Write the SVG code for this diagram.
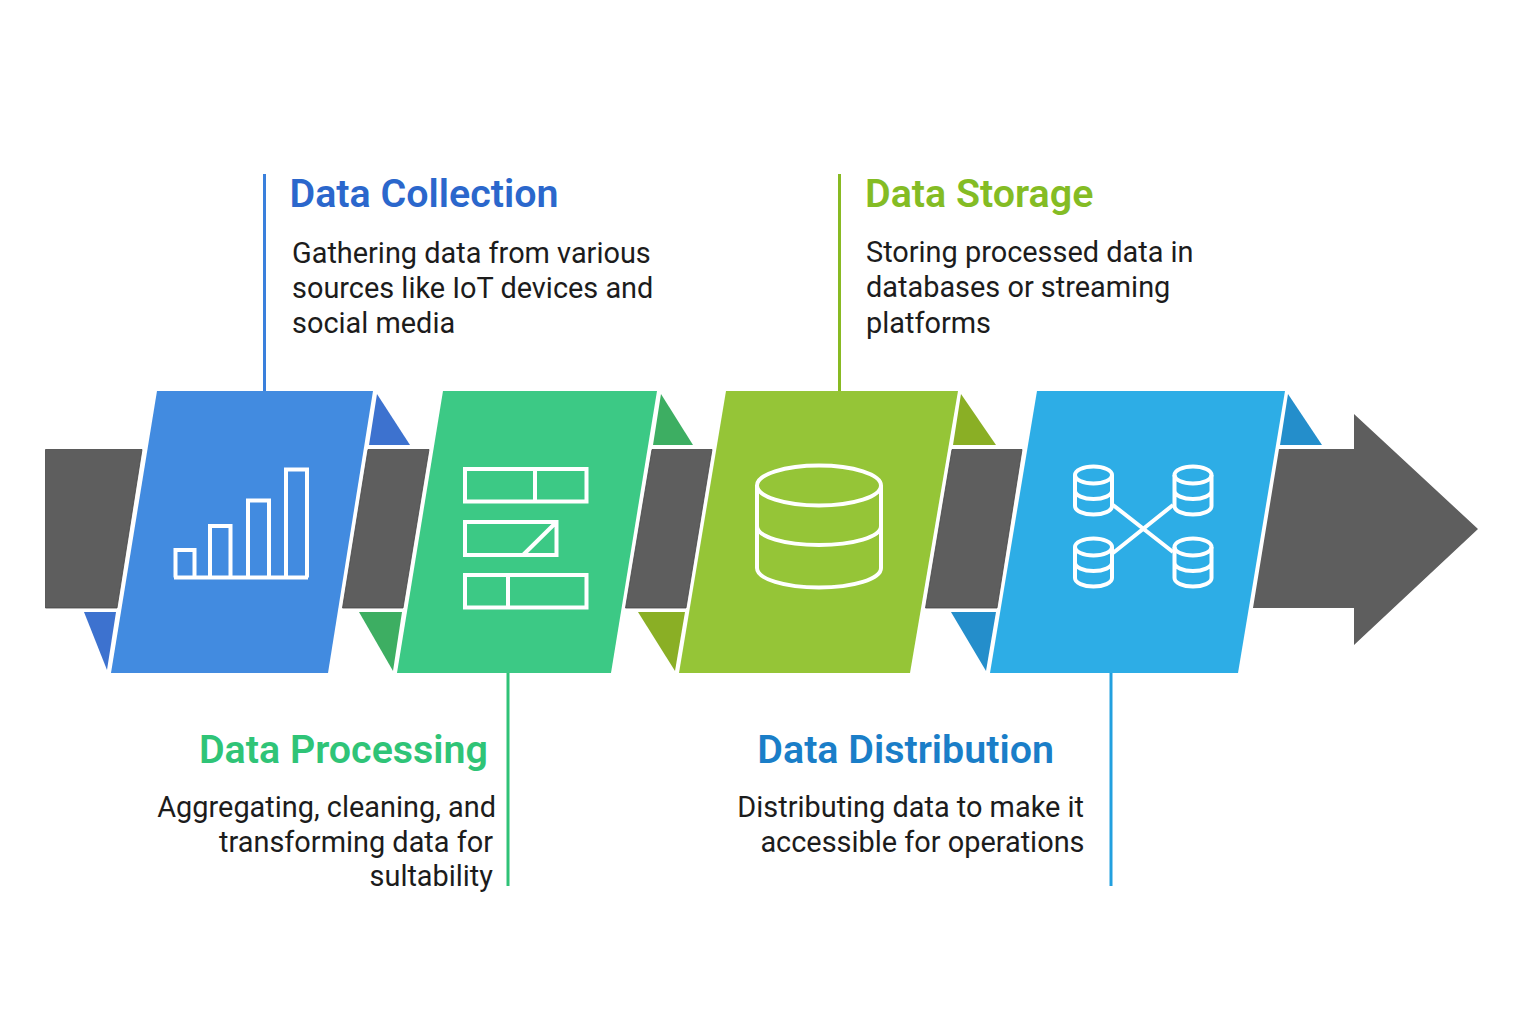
<svg xmlns="http://www.w3.org/2000/svg" width="1536" height="1024" viewBox="0 0 1536 1024">
<style>
text{font-family:Roboto,"Liberation Sans",sans-serif}
.t{font-size:39.400px;font-weight:600}
.b{font-size:28.900px;fill:#1c1c1c}
.e{text-anchor:end}
.g{fill:#5e5e5e;stroke:#454545;stroke-width:.8}
.i{fill:none;stroke:#fff;stroke-width:4}
.l{fill:none;stroke-width:3}
</style>
<rect width="1536" height="1024" fill="#fff"/>
<g id="connectors">
<path class="l" stroke="#3a80dc" d="M264.500 174V391"/>
<path class="l" stroke="#2fc277" d="M508 673V886"/>
<path class="l" stroke="#88ba22" d="M839.500 174V391"/>
<path class="l" stroke="#22a0df" d="M1111 673V886"/>
</g>
<g id="spine">
<polygon class="g" points="45.500,449.500 142,449.500 117,608 45.500,608"/>
<polygon class="g" points="368,449.500 429,449.500 403,608 342.500,608"/>
<polygon class="g" points="652,449.500 712,449.500 686,608 625.500,608"/>
<polygon class="g" points="952,449.500 1022,449.500 997,608 925.500,608"/>
<polygon points="1279,449 1354,449 1354,414 1478,529 1354,645 1354,608 1253,608" fill="#5e5e5e"/>
</g>
<g id="node-collection">
<polygon points="377,394 410,445 369,445" fill="#3d72cf"/>
<polygon points="84,612 116,612 107,670" fill="#3d72cf"/>
<polygon points="157,391 373,391 328,673 111,673" fill="#428be0"/>
<path class="i" d="M174 577.500H308M175.500 577.500V550H194.500V577.500M210 577.500V526H230.500V577.500M248 577.500V500.500H269V577.500M286 577.500V469.500H307V577.500"/>
<text class="t" x="289.500" y="207" fill="#2b67cc">Data Collection</text>
<text class="b" x="292" y="263">Gathering data from various</text>
<text class="b" x="292" y="298">sources like IoT devices and</text>
<text class="b" x="292" y="333">social media</text>
</g>
<g id="node-processing">
<polygon points="661,394 693,445 653,445" fill="#3dae62"/>
<polygon points="359,612 402,612 393,671" fill="#3dae62"/>
<polygon points="443,391 657,391 611,673 397,673" fill="#3cc985"/>
<path class="i" d="M465 469H586.500V501.500H465ZM535 469V501.500M465 522H556.500V555H465ZM556.500 522L523 555M465 575H586.500V607.500H465ZM508 575V607.500"/>
<text class="t e" x="488" y="763" fill="#2fc477">Data Processing</text>
<text class="b e" x="496" y="817">Aggregating, cleaning, and</text>
<text class="b e" x="493" y="852">transforming data for</text>
<text class="b e" x="493" y="886">sultability</text>
</g>
<g id="node-storage">
<polygon points="961,394 996,445 953,445" fill="#8aaf25"/>
<polygon points="638,612 685,612 675,671" fill="#8aaf25"/>
<polygon points="726,391 958,391 910,673 679,673" fill="#95c537"/>
<ellipse class="i" cx="819" cy="485.500" rx="62" ry="20"/>
<path class="i" d="M757 485.500V568C757 579 785 587.500 819 587.500S881 579 881 568V485.500M757 526C757 537 785 545 819 545S881 537 881 526"/>
<text class="t" x="865" y="207" fill="#84bc24">Data Storage</text>
<text class="b" x="866" y="262">Storing processed data in</text>
<text class="b" x="866" y="297">databases or streaming</text>
<text class="b" x="866" y="333">platforms</text>
</g>
<g id="node-distribution">
<polygon points="1288,394 1322,445 1280,445" fill="#248ecb"/>
<polygon points="951,612 996,612 986,671" fill="#248ecb"/>
<polygon points="1037,391 1285,391 1238,673 990,673" fill="#2dade6"/>
<defs><g id="db">
<ellipse class="i" cx="0" cy="0" rx="18.500" ry="8.500"/>
<path class="i" d="M-18.500 0V31C-18.500 36 -10 39.500 0 39.500S18.500 36 18.500 31V0M-18.500 15.500C-18.500 20.500 -10 24 0 24S18.500 20.500 18.500 15.500"/>
</g></defs>
<use href="#db" x="1093.500" y="475"/>
<use href="#db" x="1193" y="475"/>
<use href="#db" x="1093.500" y="547"/>
<use href="#db" x="1193" y="547"/>
<path class="i" d="M1113 505L1173 552M1173 505L1113 553"/>
<text class="t e" x="1054" y="763" fill="#1a7ec8">Data Distribution</text>
<text class="b e" x="1084" y="817">Distributing data to make it</text>
<text class="b e" x="1084.500" y="852">accessible for operations</text>
</g>
</svg>
